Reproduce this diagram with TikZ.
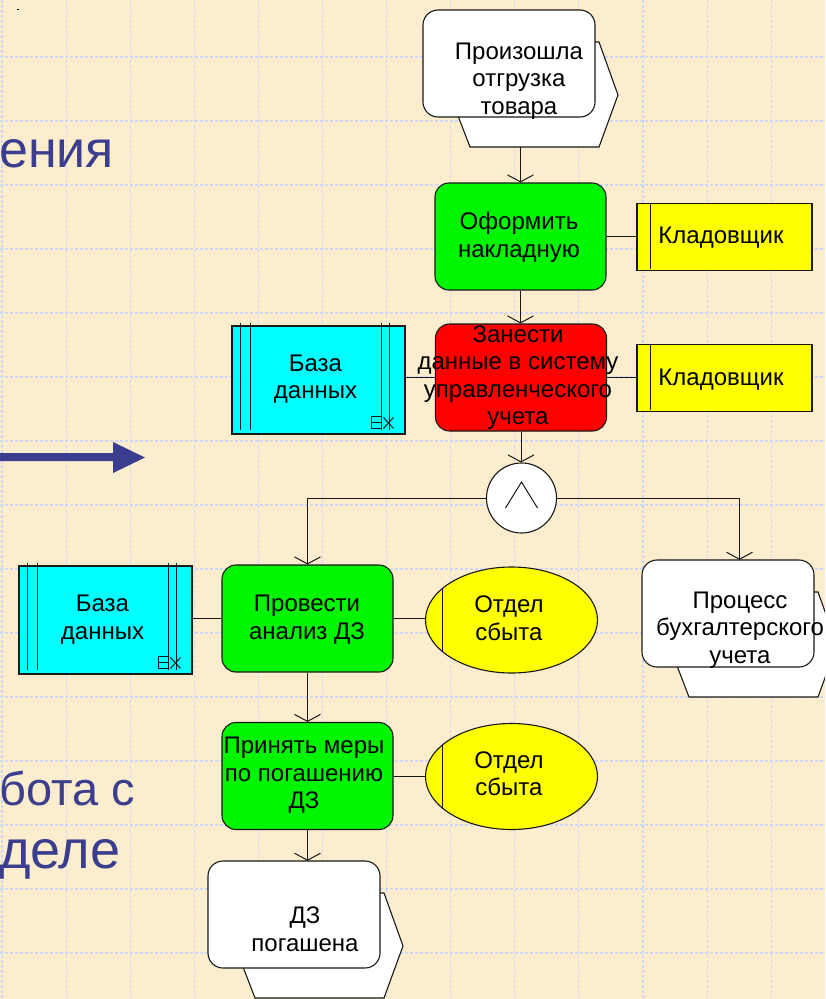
\documentclass[tikz,border=0pt]{standalone}
\usepackage{fontspec}
\setmainfont{Liberation Sans}
\usetikzlibrary{arrows.meta,calc,shapes.geometric}

\definecolor{paper}{RGB}{251,237,205}
\definecolor{gridblue}{RGB}{206,216,246}
\definecolor{slideblue}{RGB}{59,62,142}
\definecolor{fgreen}{RGB}{0,245,0}
\definecolor{fred}{RGB}{255,0,0}
\definecolor{dbcyan}{RGB}{0,255,255}
\definecolor{roleyellow}{RGB}{255,255,0}
\definecolor{ink}{RGB}{25,25,25}

\tikzset{
  frame/.style={draw=ink, line width=1.1pt},
  func/.style={frame, rounded corners=14pt, minimum width=171pt, minimum height=107pt, inner sep=0pt},
  dbbox/.style={frame, fill=dbcyan, minimum width=173pt, minimum height=108pt, inner sep=0pt},
  role/.style={frame, fill=roleyellow, minimum width=175pt, minimum height=67pt, inner sep=0pt},
  orgunit/.style={frame, ellipse, fill=roleyellow, minimum width=172pt, minimum height=106pt, inner sep=0pt},
  andgate/.style={frame, circle, fill=white, minimum size=70pt, inner sep=0pt},
  evarea/.style={minimum width=195pt, minimum height=137pt, inner sep=0pt},
  txt/.style={font=\fontsize{24}{27.5}\selectfont, align=center, inner sep=0pt, text=black},
  flow/.style={draw=ink, line width=1pt, -{Straight Barb[length=7pt,width=26pt,line width=1pt]}},
  link/.style={draw=ink, line width=1pt},
  bigtext/.style={text=slideblue, anchor=base west, inner sep=0pt},
  gridline/.style={draw=gridblue, line width=1.1pt, dash pattern=on 3pt off 2pt},
}

% event / process-interface symbol: hexagon behind a rounded box (#1,#2 = box top-left)
\newcommand{\EvShape}[2]{%
  \begin{scope}[shift={(#1,#2)}]
    \draw[frame, fill=white] (47,32) -- (176,32) -- (195,85) -- (176,137) -- (47,137) -- (27,85) -- cycle;
    \draw[frame, fill=white, rounded corners=15pt] (0,0) rectangle (172,107);
  \end{scope}}

% database symbol details (#1 = node name)
\newcommand{\DbMarks}[1]{%
  \begin{scope}[shift={(#1.north west)}]
    \draw[link] (9,-2) -- (9,105) (19,-2) -- (19,105) (150,-2) -- (150,105) (158,-2) -- (158,105);
    \draw[link] (140,91) rectangle (150,103) (140,97) -- (150,97);
    \draw[link] (152,92) -- (162,103) (152,103) -- (162,92);
  \end{scope}}

\begin{document}
\begin{tikzpicture}[x=1pt,y=-1pt]
  \useasboundingbox (0,0) rectangle (825,999);
  \clip (0,0) rectangle (825,999);
  \fill[paper] (0,0) rectangle (825,999);

  % dashed background grid
  \foreach \k in {0,...,13} \draw[gridline] ({2+64.1*\k},0) -- ({2+64.1*\k},999);
  \foreach \k in {0,...,15} \draw[gridline] (0,{-7+64*\k}) -- (825,{-7+64*\k});

  \fill[black] (17,9) rectangle (19,10.3);

  % slide text and arrow
  \node[bigtext, font=\fontsize{52}{60}\selectfont] (t1) at (-1,167) {ения};
  \node[bigtext, font=\fontsize{47}{56}\selectfont] (t2) at (-1,805) {бота с};
  \node[bigtext, font=\fontsize{54}{60}\selectfont] (t3) at (-1,868) {деле};
  \fill[slideblue] (0,453) -- (113,453) -- (113,442) -- (145,457.5) -- (113,473) -- (113,461) -- (0,461) -- cycle;

  % events
  \EvShape{423}{10}
  \node[evarea] (e1) at (520.5,78.5) {};
  \node[txt] at (519,81) {\strut Произошла\\отгрузка\\товара\strut};

  \EvShape{642}{560}
  \node[evarea] (p2) at (739.5,628.5) {};
  \node[txt] at (740,630) {\strut Процесс\\бухгалтерского\\учета\strut};

  \EvShape{208}{861}
  \node[evarea] (e3) at (305.5,929.5) {};
  \node[txt] at (305,932) {\strut ДЗ\\погашена\strut};

  % functions
  \node[func, fill=fgreen] (f1) at (520.5,236.5) {};
  \node[txt] at (519,238) {\strut Оформить\\накладную\strut};
  \node[func, fill=fred] (f2) at (521,377.5) {};
  \node[txt] at (518,378) {\strut Занести\\данные в систему\\управленческого\\учета\strut};
  \node[func, fill=fgreen] (f3) at (307.5,618.5) {};
  \node[txt] at (307,620) {\strut Провести\\анализ ДЗ\strut};
  \node[func, fill=fgreen] (f4) at (307.5,776) {};
  \node[txt] at (304,775.5) {\strut Принять меры\\по погашению\\ДЗ\strut};

  % roles
  \node[role] (k1) at (724.5,237) {};
  \draw[link] ($(k1.north west)+(14,0)$) -- ($(k1.south west)+(14,-2)$);
  \node[txt] at (721,237.5) {\strut Кладовщик\strut};
  \node[role] (k2) at (724.5,378) {};
  \draw[link] ($(k2.north west)+(14,0)$) -- ($(k2.south west)+(14,-2)$);
  \node[txt] at (721,379.5) {\strut Кладовщик\strut};

  % databases
  \node[dbbox] (db1) at (318.5,380) {};
  \DbMarks{db1}
  \node[txt] at (315.5,379.5) {\strut База\\данных\strut};
  \node[dbbox] (db2) at (105.5,620) {};
  \DbMarks{db2}
  \node[txt] at (102.5,620) {\strut База\\данных\strut};

  % organisational units
  \node[orgunit] (u1) at (511.5,620) {};
  \draw[link] ($(u1.west)+(18,-32.4)$) -- ($(u1.west)+(18,32.4)$);
  \node[txt] at (509,621) {\strut Отдел\\сбыта\strut};
  \node[orgunit] (u2) at (511.5,776.5) {};
  \draw[link] ($(u2.west)+(18,-32.4)$) -- ($(u2.west)+(18,32.4)$);
  \node[txt] at (509,776.5) {\strut Отдел\\сбыта\strut};

  % AND connector
  \node[andgate] (and) at (521.5,498) {};
  \draw[link] ($(and)+(-16,10)$) -- ($(and)+(0,-16)$) -- ($(and)+(16,10)$);

  % control flow
  \draw[flow] (e1.south) -- (e1.south |- f1.north);
  \draw[flow] (f1.south) -- (f1.south |- f2.north);
  \draw[flow] (f2.south) -- (f2.south |- and.north);
  \draw[flow] (and.west) -| (f3.north);
  \draw[flow] (and.east) -| (p2.north);
  \draw[flow] (f3.south) -- (f3.south |- f4.north);
  \draw[flow] (f4.south) -- (f4.south |- e3.north);

  % assignments
  \draw[link] (f1.east) -- (f1.east -| k1.west);
  \draw[link] (f2.east) -- (f2.east -| k2.west);
  \draw[link] (f2.west) -- (f2.west -| db1.east);
  \draw[link] (f3.west) -- (f3.west -| db2.east);
  \draw[link] (f3.east) -- (f3.east -| u1.west);
  \draw[link] (f4.east) -- (f4.east -| u2.west);
\end{tikzpicture}
\end{document}
